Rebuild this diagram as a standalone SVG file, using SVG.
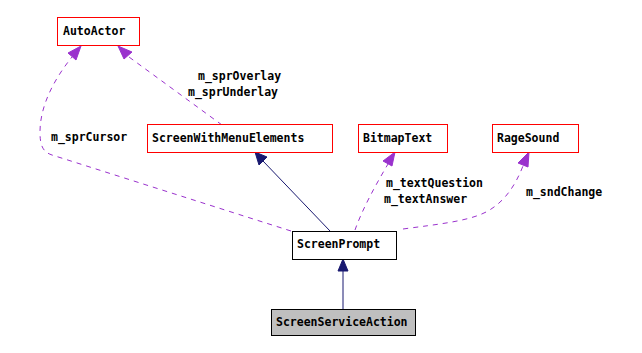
<svg xmlns="http://www.w3.org/2000/svg" width="642" height="353" viewBox="0 0 642 353">
  <style>
    .box rect { stroke-width: 1; }
    .red rect { fill: #ffffff; stroke: #ff0000; }
    .main rect { fill: #ffffff; stroke: #000000; }
    .focus rect { fill: #bfbfbf; stroke: #000000; }
    text { font-family: "DejaVu Sans Mono", "Liberation Mono", monospace; font-size: 11.5px; font-weight: bold; fill: #000000; }
    .usage { fill: none; stroke: #9a32cd; stroke-width: 1; stroke-dasharray: 5,5; }
    .inherit { fill: none; stroke: #191970; stroke-width: 1; }
    .usage-head { fill: #9a32cd; stroke: #9a32cd; }
    .inherit-head { fill: #191970; stroke: #191970; }
  </style>
  <rect width="642" height="353" fill="#ffffff"/>

  <g id="connectors">
    <!-- ScreenServiceAction -> ScreenPrompt -->
    <path class="inherit" d="M343,309 L343,271"/>
    <polygon class="inherit-head" points="343,259 338,271 348,271"/>
    <!-- ScreenPrompt -> ScreenWithMenuElements -->
    <path class="inherit" d="M330,231 L263,161"/>
    <polygon class="inherit-head" points="255,152 259,165 267,157"/>
    <!-- m_sprCursor -->
    <path class="usage" d="M291,231 L52,155 C43,152 40,146 40,132 C40,105 55,78 72,57"/>
    <polygon class="usage-head" points="81,46 68,53 76,60"/>
    <!-- m_sprOverlay / m_sprUnderlay -->
    <path class="usage" d="M222,125 L129,57"/>
    <polygon class="usage-head" points="118,46 124,59 132,52"/>
    <!-- m_textQuestion / m_textAnswer -->
    <path class="usage" d="M355,230 C362,210 375,186 388,164"/>
    <polygon class="usage-head" points="395,152 383,161 392,166"/>
    <!-- m_sndChange -->
    <path class="usage" d="M403,229 C440,224 470,221 488,211 C505,201 515,186 523,166"/>
    <polygon class="usage-head" points="529,152 518,163 528,167"/>
    <!-- edge labels -->
    <text x="198" y="80">m_sprOverlay</text>
    <text x="188" y="96">m_sprUnderlay</text>
    <text x="51" y="141">m_sprCursor</text>
    <text x="386" y="187">m_textQuestion</text>
    <text x="384" y="203">m_textAnswer</text>
    <text x="526" y="196">m_sndChange</text>
  </g>

  <g id="AutoActor" class="box red">
    <rect x="57.5" y="17.5" width="82" height="28" fill="#ffffff" stroke="#ff0000"/>
    <text x="63" y="35">AutoActor</text>
  </g>
  <g id="ScreenWithMenuElements" class="box red">
    <rect x="147.5" y="124.5" width="185" height="28"/>
    <text x="152" y="142">ScreenWithMenuElements</text>
  </g>
  <g id="BitmapText" class="box red">
    <rect x="358.5" y="124.5" width="89" height="28"/>
    <text x="363" y="142">BitmapText</text>
  </g>
  <g id="RageSound" class="box red">
    <rect x="492.5" y="124.5" width="86" height="28"/>
    <text x="497" y="142">RageSound</text>
  </g>
  <g id="ScreenPrompt" class="box main">
    <rect x="292.5" y="231.5" width="104" height="28"/>
    <text x="297" y="248">ScreenPrompt</text>
  </g>
  <g id="ScreenServiceAction" class="box focus">
    <rect x="271.5" y="309.5" width="144" height="26"/>
    <text x="276" y="326">ScreenServiceAction</text>
  </g>
</svg>
